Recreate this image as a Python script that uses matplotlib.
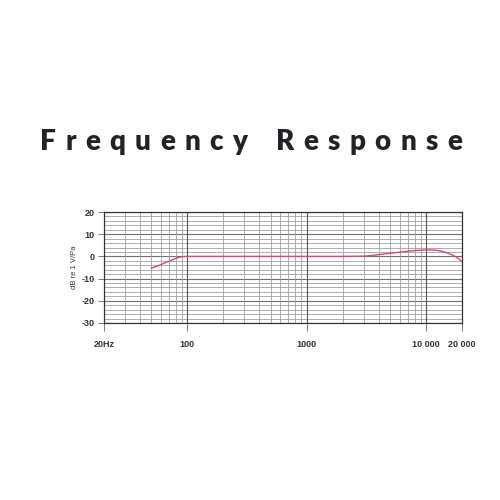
import numpy as np
import matplotlib.pyplot as plt
from matplotlib.ticker import FixedLocator, NullFormatter

plt.rcParams["axes.unicode_minus"] = False

# response curve
freq_hz = [50, 55, 60, 65, 70, 75, 80, 85, 90, 100, 200, 500, 1000, 2000,
           3000, 3500, 4000, 5000, 6000, 7000, 8000, 9000, 10000, 11000,
           12000, 13000, 14000, 15000, 16000, 17000, 18000, 19000, 20000]
level_db = [-5.3, -4.5, -3.7, -2.9, -2.2, -1.5, -0.9, -0.4, -0.1, 0.0, 0.0,
            0.0, 0.0, 0.0, 0.1, 0.4, 0.8, 1.4, 1.9, 2.3, 2.6, 2.8, 2.9, 2.9,
            2.8, 2.5, 2.1, 1.6, 1.0, 0.4, -0.4, -1.3, -2.3]

title = "Frequency Response"
x_ticks = [20, 100, 1000, 10000, 20000]
x_labels = ["20Hz", "100", "1000", "10 000", "20 000"]
y_ticks = [-30, -20, -10, 0, 10, 20]
y_minor = list(range(-30, 21, 2))
x_minor = [30, 40, 50, 60, 70, 80, 90,
           200, 300, 400, 500, 600, 700, 800, 900,
           2000, 3000, 4000, 5000, 6000, 7000, 8000, 9000]

fig = plt.figure(figsize=(5, 5), dpi=100)
fig.patch.set_facecolor("white")

# title drawn letter by letter to get the wide tracking
fig.canvas.draw()
renderer = fig.canvas.get_renderer()
parts = []
for ch in title:
    t = fig.text(0, 0.716, ch if ch != " " else "n", ha="left", va="center",
                 fontsize=20, fontweight="heavy", family="Lato",
                 color="#222228")
    w = t.get_window_extent(renderer).width
    if ch == " ":
        t.remove()
        t = None
        w = w * 0.6
    parts.append((t, w))
left_px, right_px = 40, 462
total = sum(w for _, w in parts)
track = (right_px - left_px - total) / (len(parts) - 1)
x = left_px
for t, w in parts:
    if t is not None:
        t.set_x(x / 500)
    x += w + track

ax = fig.add_axes([0.208, 0.354, 0.716, 0.222])
ax.set_xscale("log")
ax.set_xlim(20, 20000)
ax.set_ylim(-30, 20)

# grid
for y in y_minor:
    lw = 0.8 if y % 10 == 0 else 0.6
    c = "#707070" if y % 10 == 0 else "#a0a0a0"
    ax.axhline(y, color=c, lw=lw, zorder=1)
for xv in x_minor:
    ax.axvline(xv, color="#a0a0a0", lw=0.6, zorder=1)
for xv in [100, 1000, 10000]:
    ax.axvline(xv, color="#555555", lw=0.8, zorder=1)

ax.plot(freq_hz, level_db, color="#d84a72", lw=1.0, zorder=3)

ax.xaxis.set_major_locator(FixedLocator(x_ticks))
ax.xaxis.set_minor_locator(FixedLocator([]))
ax.xaxis.set_minor_formatter(NullFormatter())
ax.set_xticklabels(x_labels)
ax.set_yticks(y_ticks)

ax.tick_params(axis="y", length=4, width=0.6, pad=3, colors="#666666")
ax.tick_params(axis="x", length=6, width=0.6, pad=6, colors="#666666")
for lab in ax.get_xticklabels() + ax.get_yticklabels():
    lab.set_fontweight("bold")
    lab.set_fontsize(6.5)
    lab.set_family("Liberation Sans")
    lab.set_color("#333333")

ax.set_ylabel("dB re 1 V/Pa", fontsize=5.5, family="Liberation Sans",
              color="#333333", labelpad=2)

for s in ax.spines.values():
    s.set_color("#333333")
    s.set_linewidth(0.9)

fig.savefig("out.png", dpi=100, facecolor="white")
